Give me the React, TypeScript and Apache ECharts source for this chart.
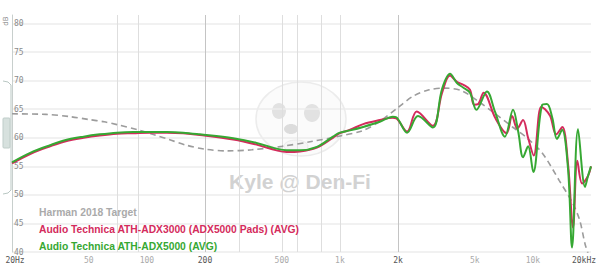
import React, { useEffect, useRef } from "react";
import * as echarts from "echarts";

// ---------- data ----------
const SERIES_NAMES = [
  "Harman 2018 Target",
  "Audio Technica ATH-ADX3000 (ADX5000 Pads) (AVG)",
  "Audio Technica ATH-ADX5000 (AVG)",
];

const TARGET_FREQ = [20, 30, 40, 50, 60, 70, 90, 110, 130, 160, 200, 260, 350, 500, 700, 1000, 1300, 1600, 2000, 2400, 2900, 3500, 4300, 5300, 6500, 7900, 9300, 11200, 13700, 16100, 17500, 18600, 19400, 20000];
const TARGET_DB = [64.2, 64.1, 63.7, 63.2, 62.8, 62.3, 61.4, 60.5, 59.7, 58.7, 58.0, 57.7, 57.9, 58.5, 59.3, 60.3, 61.2, 62.8, 65.3, 67.3, 68.4, 68.7, 68.2, 66.2, 64.0, 61.8, 60.0, 57.3, 52.5, 48.5, 45.5, 41.5, 39.5, 38.0];

const ADX3000_FREQ = [20, 25, 31.5, 38, 47, 57, 70, 85, 104, 127, 154, 188, 280, 370, 470, 530, 620, 760, 920, 1000, 1130, 1320, 1610, 1880, 1960, 2230, 2500, 3030, 3380, 3720, 4040, 4350, 4720, 4950, 5200, 5550, 6400, 7300, 7800, 8300, 8890, 9440, 10100, 11020, 11560, 12300, 13200, 14200, 15200, 16140, 17000, 18000, 19300, 20000];
const ADX3000_DB = [55.5, 57.2, 58.5, 59.4, 60.0, 60.4, 60.7, 60.8, 60.9, 60.9, 60.8, 60.5, 59.7, 58.8, 57.8, 57.5, 57.6, 58.3, 60.0, 60.8, 61.4, 62.4, 63.1, 63.5, 63.4, 61.1, 64.6, 62.1, 67.8, 70.9, 69.8, 69.3, 68.4, 65.8, 65.9, 67.9, 63.4, 60.8, 63.8, 61.6, 63.1, 60.0, 56.9, 65.4, 65.0, 63.8, 60.6, 61.9, 55.5, 44.3, 56.0, 52.0, 53.3, 55.0];

const ADX5000_FREQ = [20, 25, 31.5, 38, 47, 57, 70, 85, 104, 127, 154, 188, 280, 370, 470, 530, 620, 760, 920, 1000, 1130, 1320, 1610, 1880, 1960, 2230, 2540, 3030, 3380, 3720, 4040, 4350, 4720, 5100, 5780, 6360, 7160, 7890, 8400, 8890, 9440, 10050, 11150, 11830, 12600, 13330, 14160, 15210, 15950, 17130, 18630, 19290, 20000];
const ADX5000_DB = [55.7, 57.4, 58.7, 59.6, 60.2, 60.6, 60.9, 61.0, 61.0, 61.0, 60.9, 60.6, 59.9, 59.1, 58.1, 57.8, 57.8, 58.4, 60.2, 60.9, 61.3, 61.9, 62.8, 63.7, 63.6, 60.9, 63.8, 61.8, 68.5, 71.2, 69.6, 68.8, 67.9, 64.9, 68.1, 64.6, 60.2, 64.9, 61.0, 56.6, 58.5, 54.0, 65.7, 65.9, 63.5, 59.8, 61.4, 54.5, 40.8, 61.5, 51.4, 53.3, 55.0];

const X_LABEL_FREQ = [20, 50, 100, 200, 500, 1000, 2000, 5000, 10000, 20000];
const X_LABEL_TEXT = ["20Hz", "50", "100", "200", "500", "1k", "2k", "5k", "10k", "20kHz"];
const X_LABEL_STRONG = [true, false, false, true, false, false, true, false, false, true];

const GRID_FREQ = [70, 90, 200, 300, 500, 600, 800, 1000, 2000];
const GRID_STRONG = [false, false, true, false, false, false, false, false, true];

const Y_MIN = 40;
const Y_MAX = 81.5;
const Y_STEP = 5;

const COLORS = ["#9c9c9c", "#d42b5c", "#36a833"];

const pairs = (xs: number[], ys: number[]) => xs.map((x, i) => [x, ys[i]]);

export default function App() {
  const ref = useRef<HTMLDivElement>(null);

  useEffect(() => {
    if (!ref.current) return;
    const chart = echarts.init(ref.current, null, { renderer: "svg" });

    const labelItems = X_LABEL_FREQ.map((f, i) => ({
      xAxis: f,
      lineStyle: { color: "rgba(0,0,0,0)", width: 1 },
      label: {
        show: true,
        formatter: X_LABEL_TEXT[i],
        color: X_LABEL_STRONG[i] ? "#555" : "#aaa",
        offset: i === 0 ? [3, 0] : i === X_LABEL_FREQ.length - 1 ? [-7, 0] : [0, 0],
      },
    }));
    const gridItems = GRID_FREQ.map((f, i) => ({
      xAxis: f,
      lineStyle: { color: GRID_STRONG[i] ? "#c4c4c4" : "#dedede", width: 1 },
      label: { show: false },
    }));

    const option: any = {
      animation: false,
      grid: { left: 12, right: 9, top: 15, bottom: 28, containLabel: false },
      xAxis: {
        type: "log",
        logBase: 10,
        min: 20,
        max: 20000,
        axisLine: { show: false },
        axisTick: { show: false },
        axisLabel: { show: false },
        splitLine: { show: false },
        minorSplitLine: { show: false },
      },
      yAxis: {
        type: "value",
        min: Y_MIN,
        max: Y_MAX,
        interval: Y_STEP,
        axisLine: { show: true, lineStyle: { color: "#c8cfcd", width: 1 } },
        axisTick: { show: false },
        axisLabel: {
          inside: true,
          margin: 2,
          fontSize: 8,
          fontFamily: "DejaVu Sans Mono, monospace",
          color: "#8a8a8a",
          padding: [0, 0, 4, 0],
          formatter: (v: number) => (v % 5 === 0 ? String(v) : ""),
        },
        splitLine: {
          show: true,
          showMaxLine: false,
          lineStyle: { color: "#ececec", width: 1.5 },
        },
      },
      legend: {
        left: 28,
        top: 201,
        orient: "vertical",
        itemWidth: 0,
        itemHeight: 0,
        itemGap: 4,
        selectedMode: false,
        textStyle: {
          fontSize: 10.3,
          fontWeight: "bold",
          fontFamily: "Liberation Sans, Arial, sans-serif",
          lineHeight: 13,
        },
        data: SERIES_NAMES.map((n, i) => ({ name: n, textStyle: { color: i === 0 ? "#aaaaaa" : COLORS[i] } })),
      },
      graphic: [
        // dog watermark
        {
          type: "group",
          silent: true,
          z: 0,
          children: [
            { type: "ellipse", shape: { cx: 301, cy: 119, rx: 45, ry: 37 }, style: { fill: "#fbfbfb", stroke: "#ececec", lineWidth: 1.5 } },
            { type: "ellipse", shape: { cx: 279, cy: 111, rx: 7, ry: 8 }, style: { fill: "#e2e2e2" } },
            { type: "ellipse", shape: { cx: 312, cy: 113, rx: 8, ry: 9 }, style: { fill: "#e2e2e2" } },
            { type: "ellipse", shape: { cx: 291, cy: 129, rx: 7, ry: 5 }, style: { fill: "#dcdcdc" } },
            { type: "ellipse", shape: { cx: 296, cy: 146, rx: 12, ry: 6 }, style: { fill: "#f6f6f6", stroke: "#ebebeb", lineWidth: 1 } },
          ],
        },
        {
          type: "text",
          silent: true,
          z: 0,
          x: 300,
          y: 181,
          style: {
            text: "Kyle @ Den-Fi",
            fill: "#d2d2d2",
            fontSize: 21,
            fontWeight: "bold",
            fontFamily: "Liberation Sans, Arial, sans-serif",
            align: "center",
            verticalAlign: "middle",
          },
        },
        // dB unit
        {
          type: "text",
          x: 6,
          y: 21,
          rotation: Math.PI / 2,
          style: { text: "dB", fill: "#888", fontSize: 7, fontFamily: "DejaVu Sans, sans-serif", align: "center", verticalAlign: "middle" },
        },
        // volume slider decoration
        {
          type: "polyline",
          silent: true,
          shape: { points: [[3, 81], [8, 82], [11, 85], [11, 190], [8, 193], [3, 194]] },
          style: { stroke: "#b9c7c3", lineWidth: 1, fill: null },
        },
        {
          type: "rect",
          silent: true,
          shape: { x: 3, y: 118, width: 7, height: 30, r: 1 },
          style: { fill: "#d7e1de", stroke: "#bfcdc9", lineWidth: 1 },
        },
      ],
      series: [
        {
          name: SERIES_NAMES[0],
          type: "line",
          data: pairs(TARGET_FREQ, TARGET_DB),
          showSymbol: false,
          symbol: "none",
          smooth: 0.3,
          z: 2,
          color: COLORS[0],
          lineStyle: { color: COLORS[0], width: 1.6, type: [6, 4] },
          markLine: {
            silent: true,
            symbol: ["none", "none"],
            animation: false,
            z: 1,
            emphasis: { disabled: true },
            lineStyle: { type: "solid", color: "#dedede", width: 1 },
            label: {
              position: "start",
              distance: 4,
              fontSize: 8,
              fontFamily: "DejaVu Sans Mono, monospace",
              color: "#aaa",
            },
            data: [...gridItems, ...labelItems],
          },
        },
        {
          name: SERIES_NAMES[1],
          type: "line",
          data: pairs(ADX3000_FREQ, ADX3000_DB),
          showSymbol: false,
          symbol: "none",
          smooth: 0.35,
          z: 3,
          color: COLORS[1],
          lineStyle: { color: COLORS[1], width: 2 },
        },
        {
          name: SERIES_NAMES[2],
          type: "line",
          data: pairs(ADX5000_FREQ, ADX5000_DB),
          showSymbol: false,
          symbol: "none",
          smooth: 0.35,
          z: 4,
          color: COLORS[2],
          lineStyle: { color: COLORS[2], width: 2 },
        },
      ],
    };

    chart.setOption(option);
    return () => chart.dispose();
  }, []);

  return <div ref={ref} style={{ width: 600, height: 280, position: "absolute", left: 0, top: 0 }} />;
}
